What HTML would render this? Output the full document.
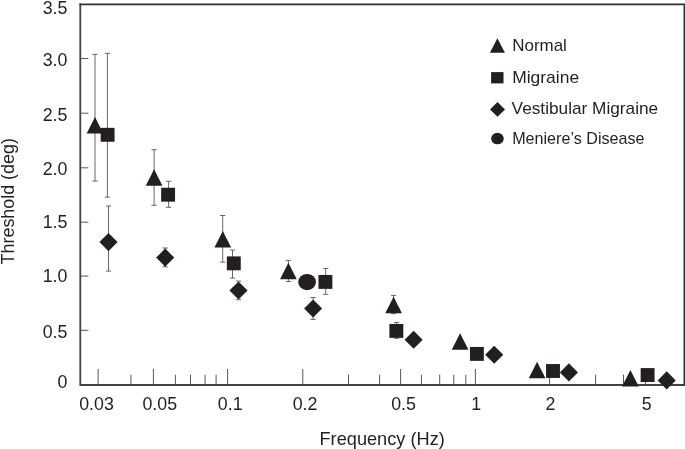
<!DOCTYPE html>
<html lang="en"><head><meta charset="utf-8"><title>Threshold vs Frequency</title>
<style>html,body{margin:0;padding:0;background:#fff}svg{display:block;will-change:transform;opacity:.999}text{font-family:"Liberation Sans",sans-serif;fill:#231f20}</style></head><body>
<svg width="685" height="449" viewBox="0 0 685 449">
<rect width="685" height="449" fill="#fff"/>
<g fill="none" stroke="#424242" stroke-width="1.8">
<path d="M80.3 3.5V385.0H685.5"/>
<path d="M79.4 4.35H684.4V385.7" stroke="#333"/>
</g>
<g stroke="#585858" stroke-width="1" fill="none">
<path d="M81 58.5H88.4"/>
<path d="M81 113.2H88.4"/>
<path d="M81 167.8H88.4"/>
<path d="M81 222.2H88.4"/>
<path d="M81 276.1H88.4"/>
<path d="M81 330.3H88.4"/>
<path d="M98.1 369V384.5"/>
<path d="M153.4 369V384.5"/>
<path d="M227.6 369V384.5"/>
<path d="M302.8 369V384.5"/>
<path d="M400.6 369V384.5"/>
<path d="M475.4 369V384.5"/>
<path d="M549.6 369V384.5"/>
<path d="M645.6 369V384.5"/>
<path d="M130.9 374.7V384.5"/>
<path d="M175.4 374.7V384.5"/>
<path d="M190.5 374.7V384.5"/>
<path d="M205.1 374.7V384.5"/>
<path d="M216.1 374.7V384.5"/>
<path d="M348.5 374.7V384.5"/>
<path d="M379.6 374.7V384.5"/>
<path d="M421.4 374.7V384.5"/>
<path d="M439.7 374.7V384.5"/>
<path d="M453.8 374.7V384.5"/>
<path d="M465.8 374.7V384.5"/>
<path d="M595.6 374.7V384.5"/>
<path d="M623.5 374.7V384.5"/>
</g>
<g stroke="#585858" stroke-width="0.9" fill="none">
<path d="M95.0 54.4V181.1M92.4 54.4h5.2M92.4 181.1h5.2"/>
<path d="M107.4 53.3V197.2M104.8 53.3h5.2M104.8 197.2h5.2"/>
<path d="M154.1 149.7V205.3M151.5 149.7h5.2M151.5 205.3h5.2"/>
<path d="M168.6 181.3V207.3M166.0 181.3h5.2M166.0 207.3h5.2"/>
<path d="M108.5 206.0V271.1M105.9 206.0h5.2M105.9 271.1h5.2"/>
<path d="M165.2 248.0V266.8M162.6 248.0h5.2M162.6 266.8h5.2"/>
<path d="M222.7 215.5V262.1M220.1 215.5h5.2M220.1 262.1h5.2"/>
<path d="M232.5 250.1V278.1M229.9 250.1h5.2M229.9 278.1h5.2"/>
<path d="M238.5 281.1V299.7M235.9 281.1h5.2M235.9 299.7h5.2"/>
<path d="M288.4 260.4V281.5M285.8 260.4h5.2M285.8 281.5h5.2"/>
<path d="M325.7 268.5V294.3M323.1 268.5h5.2M323.1 294.3h5.2"/>
<path d="M313.1 297.5V319.4M310.5 297.5h5.2M310.5 319.4h5.2"/>
<path d="M393.6 295.4V313.7M391.0 295.4h5.2M391.0 313.7h5.2"/>
<path d="M396.5 322.5V338.3M393.9 322.5h5.2M393.9 338.3h5.2"/>
</g>
<g fill="#231f20">
<path d="M86.65 133.55L95.00 117.00L103.35 133.55Z"/>
<path d="M145.75 185.75L154.10 169.20L162.45 185.75Z"/>
<path d="M214.45 247.45L222.80 230.90L231.15 247.45Z"/>
<path d="M280.05 279.25L288.40 262.70L296.75 279.25Z"/>
<path d="M385.25 313.25L393.60 296.70L401.95 313.25Z"/>
<path d="M451.75 349.85L460.10 333.30L468.45 349.85Z"/>
<path d="M528.75 378.25L537.10 361.70L545.45 378.25Z"/>
<path d="M622.05 386.45L630.40 369.90L638.75 386.45Z"/>
<rect x="100.65" y="127.85" width="13.9" height="13.9"/>
<rect x="161.15" y="187.75" width="13.9" height="13.9"/>
<rect x="226.85" y="256.40" width="13.9" height="13.9"/>
<rect x="318.45" y="274.95" width="13.9" height="13.9"/>
<rect x="389.40" y="323.95" width="13.9" height="13.9"/>
<rect x="469.95" y="346.95" width="13.9" height="13.9"/>
<rect x="546.05" y="364.05" width="13.9" height="13.9"/>
<rect x="640.65" y="368.10" width="13.9" height="13.9"/>
<path d="M99.45 242.10L108.50 233.05L117.55 242.10L108.50 251.15Z"/>
<path d="M156.15 257.60L165.20 248.55L174.25 257.60L165.20 266.65Z"/>
<path d="M229.45 290.50L238.50 281.45L247.55 290.50L238.50 299.55Z"/>
<path d="M304.05 308.50L313.10 299.45L322.15 308.50L313.10 317.55Z"/>
<path d="M404.60 339.80L413.65 330.75L422.70 339.80L413.65 348.85Z"/>
<path d="M485.15 354.80L494.20 345.75L503.25 354.80L494.20 363.85Z"/>
<path d="M559.85 372.40L568.90 363.35L577.95 372.40L568.90 381.45Z"/>
<path d="M657.65 380.40L666.70 371.35L675.75 380.40L666.70 389.45Z"/>
<ellipse cx="307.1" cy="282.1" rx="8.9" ry="8.1"/>
<path d="M489.9 52.8L497.4 38.2L504.9 52.8Z"/>
<rect x="491.1" y="72.1" width="12.4" height="11.3"/>
<path d="M490.0 109.4L497.5 102.0L505.0 109.4L497.5 116.8Z"/>
<ellipse cx="497.45" cy="138.55" rx="6.3" ry="5.8"/>
</g>
<g font-size="17.8">
<text x="67.4" y="13.6" text-anchor="end">3.5</text>
<text x="67.4" y="66.0" text-anchor="end">3.0</text>
<text x="67.4" y="120.8" text-anchor="end">2.5</text>
<text x="67.4" y="175.3" text-anchor="end">2.0</text>
<text x="67.4" y="227.6" text-anchor="end">1.5</text>
<text x="67.4" y="281.8" text-anchor="end">1.0</text>
<text x="67.4" y="337.9" text-anchor="end">0.5</text>
<text x="67.4" y="388.3" text-anchor="end">0</text>
<text x="96.5" y="409.5" text-anchor="middle">0.03</text>
<text x="159.8" y="409.5" text-anchor="middle">0.05</text>
<text x="230.2" y="409.5" text-anchor="middle">0.1</text>
<text x="305.1" y="409.5" text-anchor="middle">0.2</text>
<text x="403.6" y="409.5" text-anchor="middle">0.5</text>
<text x="476.3" y="409.5" text-anchor="middle">1</text>
<text x="550.4" y="409.5" text-anchor="middle">2</text>
<text x="646.7" y="409.5" text-anchor="middle">5</text>
</g>
<text x="319.5" y="444.9" font-size="17.8" textLength="125.3" lengthAdjust="spacingAndGlyphs">Frequency (Hz)</text>
<text transform="translate(14.4 264.4) rotate(-90)" font-size="17.8" textLength="126.3" lengthAdjust="spacingAndGlyphs">Threshold (deg)</text>
<g font-size="16.4">
<text x="512.2" y="50.7" textLength="54.7" lengthAdjust="spacingAndGlyphs">Normal</text>
<text x="512.2" y="83.2" textLength="66.9" lengthAdjust="spacingAndGlyphs">Migraine</text>
<text x="511.6" y="114.4" textLength="146.6" lengthAdjust="spacingAndGlyphs">Vestibular Migraine</text>
<text x="512.2" y="143.8" textLength="132.3" lengthAdjust="spacingAndGlyphs">Meniere’s Disease</text>
</g>
</svg></body></html>
